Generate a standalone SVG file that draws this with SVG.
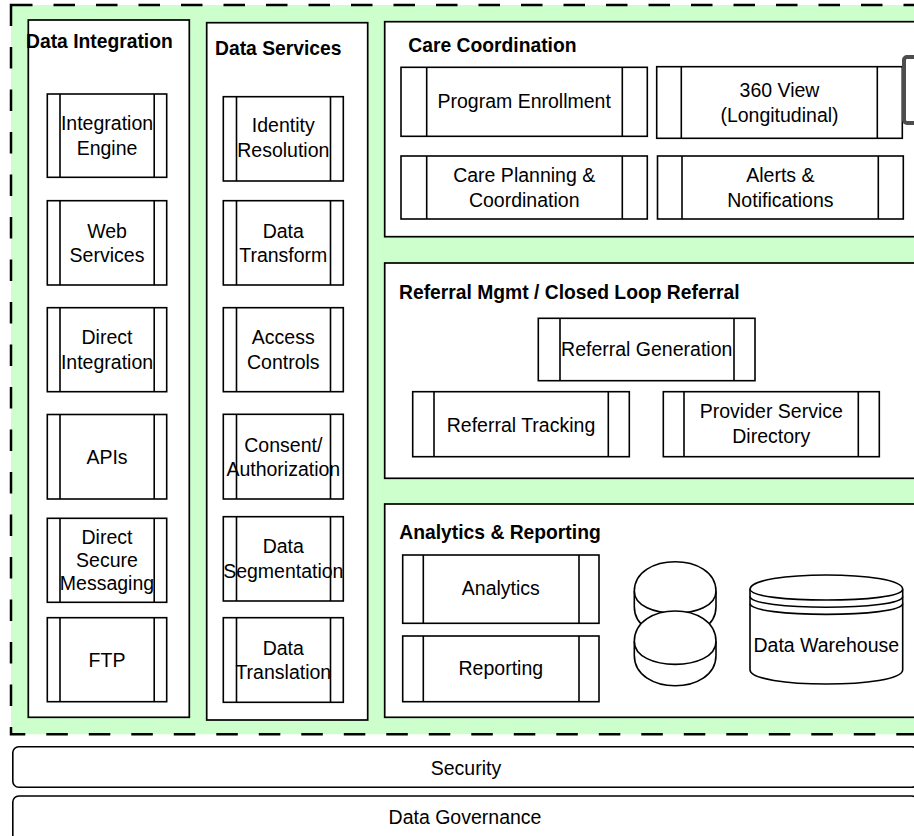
<svg xmlns="http://www.w3.org/2000/svg" width="914" height="836" viewBox="0 0 914 836">
<style>
.outer{fill:#ccffcc;stroke:#000;stroke-width:2.5;stroke-dasharray:21.5 21}
.panel{fill:#fff;stroke:#000;stroke-width:1.7}
.box{fill:#fff;stroke:#000;stroke-width:1.6}
.ln{fill:none;stroke:#000;stroke-width:1.6}
.cyl{fill:#fff;stroke:#000;stroke-width:1.6}
.t{font-family:"Liberation Sans",Arial,Helvetica,sans-serif;font-size:19.5px;fill:#000;text-anchor:middle}
.h{font-family:"Liberation Sans",Arial,Helvetica,sans-serif;font-size:19.3px;font-weight:bold;fill:#000}
.bar{fill:#fff;stroke:#000;stroke-width:1.6}
</style>
<g id="platform"><rect class="outer" x="11" y="5" width="960" height="729.3"/></g>

<g id="data-integration">
<rect class="panel" x="28.3" y="20" width="161" height="697.3"/>
<text class="h" x="26" y="48.3">Data Integration</text>
</g>
<g id="integration-engine"><rect class="box" x="47.3" y="94" width="119.4" height="83.3"/><path class="ln" d="M60 94V177.3M154.2 94V177.3"/><text class="t"><tspan x="107" y="130">Integration</tspan><tspan x="107" y="155">Engine</tspan></text></g>
<g id="web-services"><rect class="box" x="47.3" y="200.7" width="119.4" height="84.3"/><path class="ln" d="M60 200.7V285M154.2 200.7V285"/><text class="t"><tspan x="107" y="237.8">Web</tspan><tspan x="107" y="262.3">Services</tspan></text></g>
<g id="direct-integration"><rect class="box" x="47.3" y="307.7" width="119.4" height="84"/><path class="ln" d="M60 307.7V391.7M154.2 307.7V391.7"/><text class="t"><tspan x="107" y="344.4">Direct</tspan><tspan x="107" y="369">Integration</tspan></text></g>
<g id="apis"><rect class="box" x="47.3" y="414.5" width="119.4" height="84.5"/><path class="ln" d="M60 414.5V499M154.2 414.5V499"/><text class="t" x="107" y="463.5">APIs</text></g>
<g id="direct-secure-messaging"><rect class="box" x="47.3" y="518.3" width="119.4" height="84"/><path class="ln" d="M60 518.3V602.3M154.2 518.3V602.3"/><text class="t"><tspan x="107" y="544.3">Direct</tspan><tspan x="107" y="566.9">Secure</tspan><tspan x="107" y="590">Messaging</tspan></text></g>
<g id="ftp"><rect class="box" x="47.3" y="617.7" width="119.4" height="84"/><path class="ln" d="M60 617.7V701.7M154.2 617.7V701.7"/><text class="t" x="107" y="667">FTP</text></g>

<g id="data-services">
<rect class="panel" x="206.7" y="22.7" width="161" height="697.3"/>
<text class="h" x="215" y="55">Data Services</text>
</g>
<g id="identity-resolution"><rect class="box" x="223.3" y="96.7" width="120" height="84.3"/><path class="ln" d="M236.5 96.7V181M330.5 96.7V181"/><text class="t"><tspan x="283.3" y="132">Identity</tspan><tspan x="283.3" y="157">Resolution</tspan></text></g>
<g id="data-transform"><rect class="box" x="223.3" y="200.7" width="120" height="84.3"/><path class="ln" d="M236.5 200.7V285M330.5 200.7V285"/><text class="t"><tspan x="283.3" y="237.8">Data</tspan><tspan x="283.3" y="262.3">Transform</tspan></text></g>
<g id="access-controls"><rect class="box" x="223.3" y="307.7" width="120" height="84"/><path class="ln" d="M236.5 307.7V391.7M330.5 307.7V391.7"/><text class="t"><tspan x="283.3" y="344.4">Access</tspan><tspan x="283.3" y="369">Controls</tspan></text></g>
<g id="consent-authorization"><rect class="box" x="223.3" y="414.3" width="120" height="84.7"/><path class="ln" d="M236.5 414.3V499M330.5 414.3V499"/><text class="t"><tspan x="283.3" y="451.7">Consent/</tspan><tspan x="283.3" y="476">Authorization</tspan></text></g>
<g id="data-segmentation"><rect class="box" x="223.3" y="516.7" width="120" height="84.3"/><path class="ln" d="M236.5 516.7V601M330.5 516.7V601"/><text class="t"><tspan x="283.3" y="553.3">Data</tspan><tspan x="283.3" y="577.9">Segmentation</tspan></text></g>
<g id="data-translation"><rect class="box" x="223.3" y="617.7" width="120" height="84.6"/><path class="ln" d="M236.5 617.7V702.3M330.5 617.7V702.3"/><text class="t"><tspan x="283.3" y="655">Data</tspan><tspan x="283.3" y="679.3">Translation</tspan></text></g>

<g id="care-coordination">
<rect class="panel" x="384.7" y="21.7" width="560" height="215"/>
<text class="h" x="408.3" y="52">Care Coordination</text>
</g>
<g id="program-enrollment"><rect class="box" x="401" y="67.3" width="246.3" height="69"/><path class="ln" d="M426.7 67.3V136.3M622.3 67.3V136.3"/><text class="t" x="524.2" y="107.7">Program Enrollment</text></g>
<g id="view-360"><rect class="box" x="656.7" y="66.7" width="245.6" height="71.6"/><path class="ln" d="M681.3 66.7V138.3M877.3 66.7V138.3"/><text class="t"><tspan x="779.5" y="96.7">360 View</tspan><tspan x="779.5" y="121.7">(Longitudinal)</tspan></text></g>
<g id="care-planning"><rect class="box" x="401" y="156" width="246.3" height="63"/><path class="ln" d="M426.7 156V219M622.3 156V219"/><text class="t"><tspan x="524.2" y="181.7">Care Planning &amp;</tspan><tspan x="524.2" y="206.7">Coordination</tspan></text></g>
<g id="alerts-notifications"><rect class="box" x="657.5" y="156" width="245.8" height="63"/><path class="ln" d="M682 156V219M878.3 156V219"/><text class="t"><tspan x="780.4" y="181.7">Alerts &amp;</tspan><tspan x="780.4" y="206.7">Notifications</tspan></text></g>
<g id="offscreen-box"><rect x="904" y="57" width="40" height="66" rx="3" fill="#fff" stroke="#4d4d4d" stroke-width="4"/></g>

<g id="referral-mgmt">
<rect class="panel" x="384.7" y="263" width="560" height="215.3"/>
<text class="h" x="399" y="299">Referral Mgmt / Closed Loop Referral</text>
</g>
<g id="referral-generation"><rect class="box" x="538.3" y="318.3" width="216.7" height="62.4"/><path class="ln" d="M560 318.3V380.7M734 318.3V380.7"/><text class="t" x="646.7" y="356">Referral Generation</text></g>
<g id="referral-tracking"><rect class="box" x="412.7" y="391.7" width="216.6" height="65"/><path class="ln" d="M434 391.7V456.7M608.3 391.7V456.7"/><text class="t" x="521" y="431.7">Referral Tracking</text></g>
<g id="provider-service-directory"><rect class="box" x="663.3" y="391.7" width="216" height="65"/><path class="ln" d="M684 391.7V456.7M858.3 391.7V456.7"/><text class="t"><tspan x="771.3" y="418.3">Provider Service</tspan><tspan x="771.3" y="443.3">Directory</tspan></text></g>

<g id="analytics-reporting">
<rect class="panel" x="384.7" y="504" width="560" height="213.3"/>
<text class="h" x="399.3" y="539.3">Analytics &amp; Reporting</text>
</g>
<g id="analytics"><rect class="box" x="402.7" y="555" width="196.3" height="68.3"/><path class="ln" d="M423.3 555V623.3M579 555V623.3"/><text class="t" x="500.8" y="595">Analytics</text></g>
<g id="reporting"><rect class="box" x="402.7" y="636" width="196.3" height="65.7"/><path class="ln" d="M423.3 636V701.7M579 636V701.7"/><text class="t" x="500.8" y="675">Reporting</text></g>
<g id="database-1"><path class="cyl" d="M634.3 591.2C634.3 551.9 716 551.9 716 591.2L716 606.7C716 646 634.3 646 634.3 606.7Z"/><path class="ln" d="M634.3 591.2C634.3 620.7 716 620.7 716 591.2"/></g>
<g id="database-2"><path class="cyl" d="M634.3 641.5C634.3 600.8 716 600.8 716 641.5L716 655.2C716 695.9 634.3 695.9 634.3 655.2Z"/><path class="ln" d="M634.3 641.5C634.3 672 716 672 716 641.5"/></g>
<g id="data-warehouse"><path class="cyl" d="M750 589.3C750 570.2 902.7 570.2 902.7 589.3L902.7 669.7C902.7 688.8 750 688.8 750 669.7Z"/><path class="ln" d="M750 589.3C750 603.6 902.7 603.6 902.7 589.3M750 596.45C750 610.75 902.7 610.75 902.7 596.45M750 603.6C750 617.9 902.7 617.9 902.7 603.6"/><text class="t" x="826.3" y="651.7">Data Warehouse</text></g>

<g id="security"><rect class="bar" x="12.8" y="746.7" width="905" height="40.6" rx="6"/><text class="t" x="466" y="775">Security</text></g>
<g id="data-governance"><rect class="bar" x="12.8" y="796" width="905" height="50" rx="6"/><text class="t" x="465" y="824">Data Governance</text></g>
<g id="connectors"/>
</svg>
